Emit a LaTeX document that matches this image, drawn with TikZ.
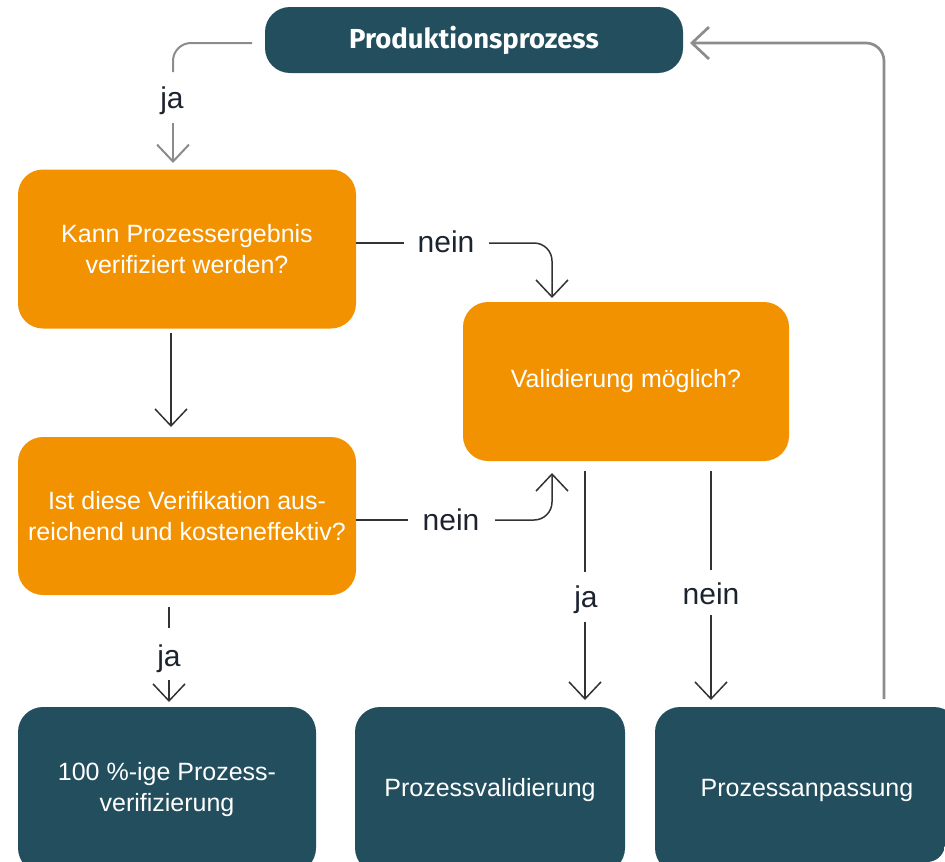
\documentclass[tikz,border=0pt]{standalone}
\usepackage{fontspec}
\setmainfont{Liberation Sans}
\newfontfamily\titlefont{Fira Sans}
\usetikzlibrary{arrows.meta}
\definecolor{boxteal}{HTML}{224E5D}
\definecolor{boxorange}{HTML}{F39200}
\definecolor{darkline}{HTML}{333333}
\definecolor{grayline}{HTML}{8C8C8C}
\definecolor{labelcol}{HTML}{1C2430}
\begin{document}
\begin{tikzpicture}[x=1pt,y=-1pt,
  box/.style={rounded corners=25pt, inner sep=0pt, text=white, align=center,
    font=\fontsize{25}{31}\selectfont},
  orangebox/.style={box, fill=boxorange},
  tealbox/.style={box, fill=boxteal},
  conn/.style={draw=darkline, line width=1.5pt},
  grayconn/.style={draw=grayline, line width=2pt},
  tip/.style={-{Straight Barb[length=17pt,width=32pt]}},
  lbl/.style={anchor=base, text=labelcol, inner sep=0pt, font=\fontsize{30}{34}\selectfont},
  rounded corners=18pt]
\useasboundingbox (0,0) rectangle (945,862);
\clip (0,0) rectangle (945,862);

% boxes
\node[tealbox, minimum width=418pt, minimum height=66pt] (top) at (474,40)
  {\titlefont\fontsize{27.5}{31}\selectfont\bfseries Produktionsprozess};
\node[orangebox, minimum width=338pt, minimum height=159pt] (b1) at (187,249)
  {Kann Prozessergebnis\\verifiziert werden?};
\node[orangebox, minimum width=338pt, minimum height=158pt] (b2) at (187,516)
  {Ist diese Verifikation aus-\\reichend und kosteneffektiv?};
\node[orangebox, minimum width=326pt, minimum height=159pt] (b3) at (626,381.5)
  {Validierung möglich?};
\node[tealbox, minimum width=298pt, minimum height=166pt] (bA) at (167,790)
  {100 \%-ige Prozess-\\verifizierung};
\node[tealbox, minimum width=270pt, minimum height=166pt] (bB) at (490,790)
  {Prozessvalidierung};
\node[tealbox, minimum width=304pt, minimum height=166pt] (bC) at (807,790)
  {Prozessanpassung};

% labels
\node[lbl] (l0) at (172,108) {ja};
\node[lbl] (l1) at (446,252) {nein};
\node[lbl] (l2) at (451,530) {nein};
\node[lbl] (l3) at (169,666) {ja};
\node[lbl] (l4) at (586,607) {ja};
\node[lbl] (l5) at (711,604) {nein};

% connector points
\coordinate (p0a) at (252,43);
\coordinate (p0b) at (173,43);
\coordinate (p0c) at (173,72);
\coordinate (p0d) at (173,123);
\coordinate (p0e) at (173,163);

\coordinate (p1a) at (171,333);
\coordinate (p1b) at (171,427);

\coordinate (p2a) at (169,607);
\coordinate (p2b) at (169,628);
\coordinate (p2c) at (169,680);
\coordinate (p2d) at (169,702);

\coordinate (p3a) at (356,243);
\coordinate (p3b) at (404,243);
\coordinate (p3c) at (489,243);
\coordinate (p3d) at (552,243);
\coordinate (p3e) at (552,298);

\coordinate (p4a) at (356,520);
\coordinate (p4b) at (408,520);
\coordinate (p4c) at (495,520);
\coordinate (p4d) at (552,520);
\coordinate (p4e) at (552,473);

\coordinate (p5a) at (585,471);
\coordinate (p5b) at (585,572);
\coordinate (p5c) at (585,622);
\coordinate (p5d) at (585,700);

\coordinate (p6a) at (711,471);
\coordinate (p6b) at (711,570);
\coordinate (p6c) at (711,615);
\coordinate (p6d) at (711,700);

\coordinate (p7a) at (884,699);
\coordinate (p7b) at (884,43);
\coordinate (p7c) at (690,43);

% connectors
\draw[grayconn] (p0a) -- (p0b) -- (p0c);
\draw[grayconn, tip, rounded corners=0pt] (p0d) -- (p0e);

\draw[conn, tip] (p1a) -- (p1b);

\draw[conn] (p2a) -- (p2b);
\draw[conn, tip] (p2c) -- (p2d);

\draw[conn] (p3a) -- (p3b);
\draw[conn, tip] (p3c) -- (p3d) -- (p3e);

\draw[conn] (p4a) -- (p4b);
\draw[conn, tip] (p4c) -- (p4d) -- (p4e);

\draw[conn] (p5a) -- (p5b);
\draw[conn, tip] (p5c) -- (p5d);

\draw[conn] (p6a) -- (p6b);
\draw[conn, tip] (p6c) -- (p6d);

\draw[grayconn, line width=2.7pt, tip] (p7a) -- (p7b) -- (p7c);
\end{tikzpicture}
\end{document}
